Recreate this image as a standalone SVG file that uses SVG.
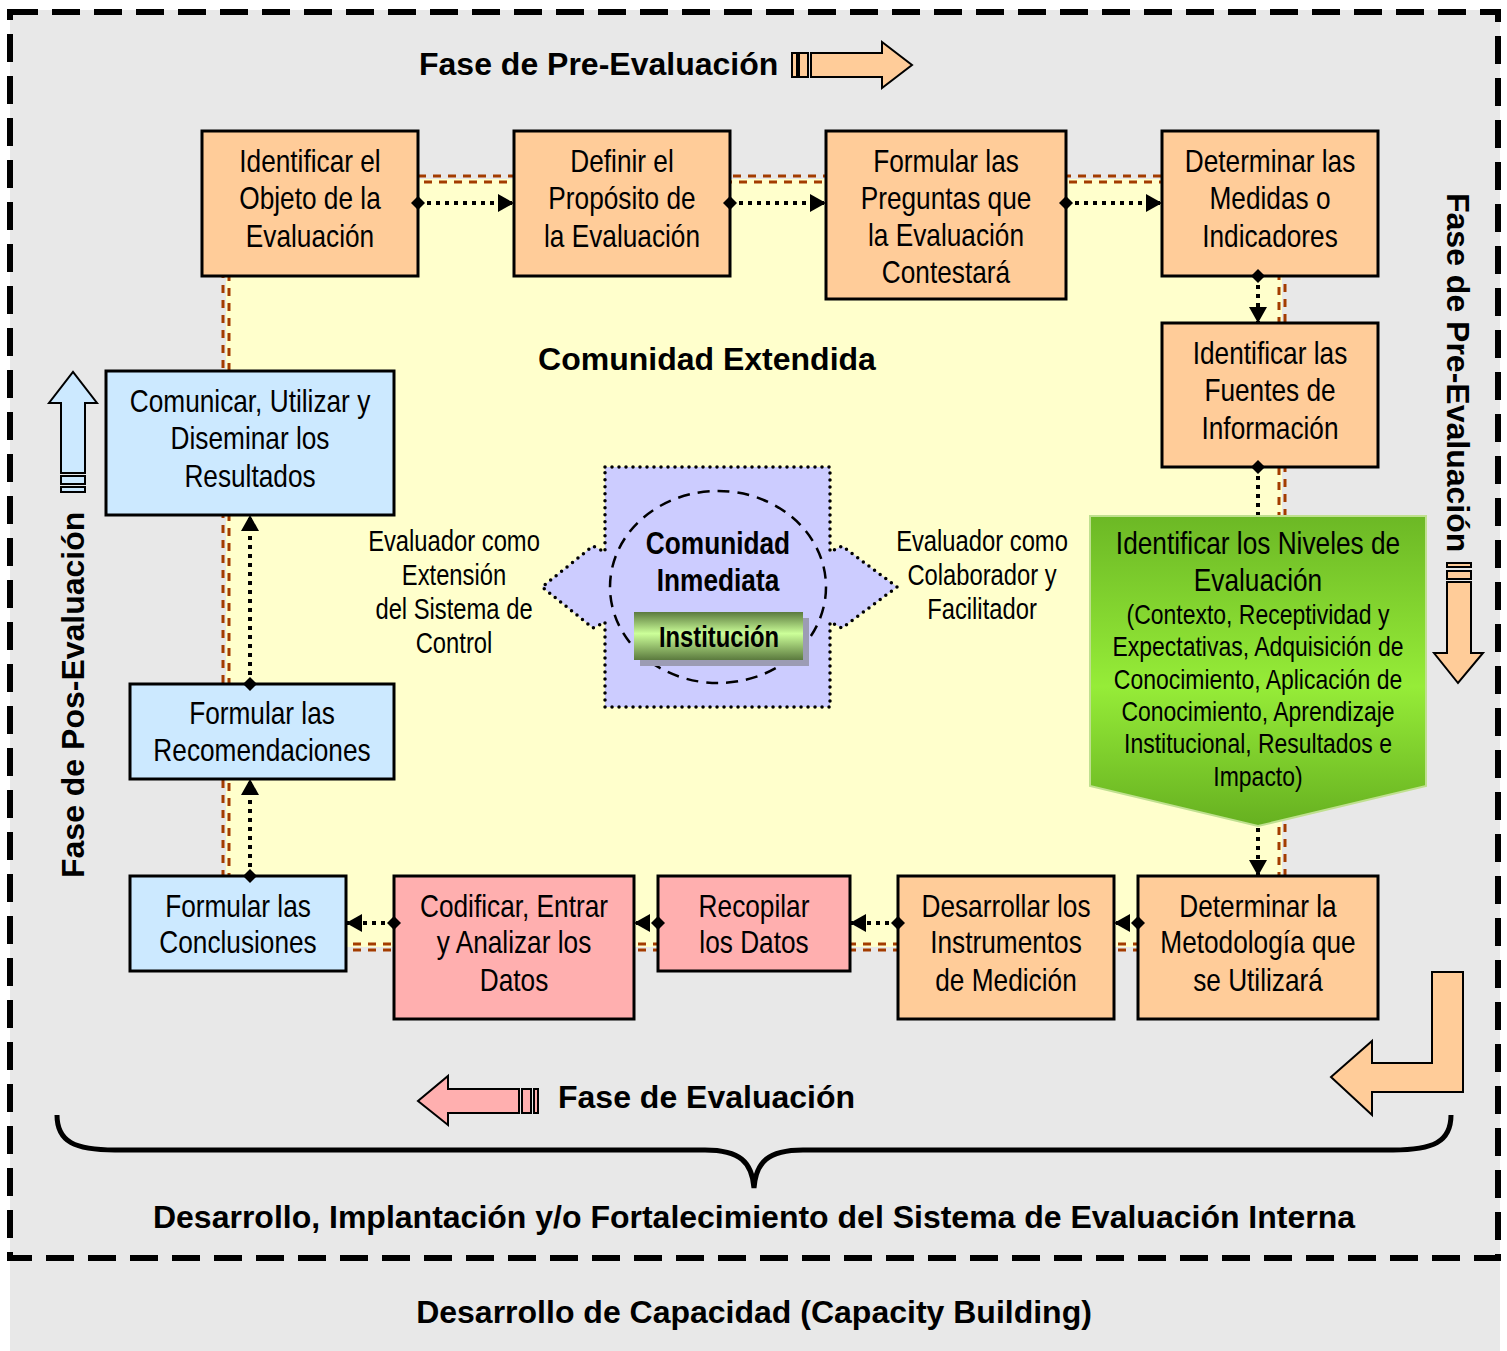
<svg xmlns="http://www.w3.org/2000/svg" width="1507" height="1351" viewBox="0 0 1507 1351">
<defs>
<style>
.box{stroke:#000;stroke-width:3}
.or{fill:#ffcc99}.pk{fill:#ffafaf}.bl{fill:#cce9ff}
.t{font-family:"Liberation Sans",Arial,sans-serif;font-size:32px;text-anchor:middle;fill:#000}
.s{font-size:28px}
.m{font-size:29px}
.b{font-family:"Liberation Sans",Arial,sans-serif;font-weight:bold;font-size:32px;fill:#000}
.nb{font-family:"Liberation Sans",Arial,sans-serif;font-weight:bold;text-anchor:middle;fill:#000}
.dd{fill:none;stroke:#a33c00;stroke-width:3;stroke-dasharray:8 7}
.con{fill:none;stroke:#000;stroke-width:4;stroke-dasharray:4 5}
.arrow{stroke:#000;stroke-width:2}
</style>
<marker id="dia" markerUnits="userSpaceOnUse" markerWidth="16" markerHeight="16" refX="8" refY="8" orient="auto"><path d="M1,8 L8,1 L15,8 L8,15 Z" fill="#000"/></marker>
<marker id="arr" markerUnits="userSpaceOnUse" markerWidth="16" markerHeight="18" refX="16" refY="9" orient="auto"><path d="M0,0 L16,9 L0,18 Z" fill="#000"/></marker>
<linearGradient id="gr" x1="0" y1="0" x2="0" y2="1">
<stop offset="0" stop-color="#6cb825"/><stop offset="0.55" stop-color="#96ec38"/><stop offset="1" stop-color="#66b020"/>
</linearGradient>
<linearGradient id="ig" x1="0" y1="0" x2="0" y2="1">
<stop offset="0" stop-color="#5b7a3e"/><stop offset="0.45" stop-color="#ccff99"/><stop offset="1" stop-color="#5b7a3e"/>
</linearGradient>
</defs>
<rect x="0" y="0" width="1507" height="1351" fill="#ffffff"/>
<rect x="10" y="10" width="1490" height="1341" fill="#e8e8e8"/>
<rect x="10" y="12" width="1488" height="1246" fill="none" stroke="#000" stroke-width="6" stroke-dasharray="28 14"/>
<g id="extended-community">
<rect x="226" y="179" width="1056" height="768" fill="#ffffcc"/>
<rect class="dd" x="223" y="176" width="1062" height="774"/>
<rect class="dd" x="229" y="182" width="1050" height="762"/>
<text class="b" x="707" y="370" text-anchor="middle">Comunidad Extendida</text>
</g>
<g id="immediate-community">
<path d="M605,467 L830,467 L830,552 L842,546 L897,587 L842,628 L830,622 L830,707 L605,707 L605,622 L593,628 L542,587 L593,546 L605,552 Z" fill="#ccccff" stroke="#000" stroke-width="3.5" stroke-linecap="round" stroke-dasharray="0 7"/>
<ellipse cx="718" cy="587" rx="108" ry="96" fill="none" stroke="#000" stroke-width="2.5" stroke-dasharray="12 8"/>
<g transform="translate(718 0) scale(0.82 1)">
<text class="nb" x="0" y="554" font-size="32">Comunidad</text>
<text class="nb" x="0" y="591" font-size="32">Inmediata</text>
</g>
</g>
<g id="institucion">
<rect x="640" y="618" width="169" height="48" fill="#9c9cb4"/>
<rect x="634" y="612" width="169" height="48" fill="url(#ig)"/>
<g transform="translate(719 0) scale(0.82 1)"><text class="nb" x="0" y="647" font-size="29">Institución</text></g>
</g>
<g id="label-left" transform="translate(454 0) scale(0.82 1)">
<text class="t m" x="0" y="551">Evaluador como</text>
<text class="t m" x="0" y="585">Extensión</text>
<text class="t m" x="0" y="619">del Sistema de</text>
<text class="t m" x="0" y="653">Control</text>
</g>
<g id="label-right" transform="translate(982 0) scale(0.82 1)">
<text class="t m" x="0" y="551">Evaluador como</text>
<text class="t m" x="0" y="585">Colaborador y</text>
<text class="t m" x="0" y="619">Facilitador</text>
</g>
<g id="n1"><rect class="box or" x="202" y="131" width="216" height="145"/>
<g transform="translate(310 0) scale(0.82 1)"><text class="t" x="0" y="172">Identificar el</text><text class="t" x="0" y="209">Objeto de la</text><text class="t" x="0" y="247">Evaluación</text></g></g>
<g id="n2"><rect class="box or" x="514" y="131" width="216" height="145"/>
<g transform="translate(622 0) scale(0.82 1)"><text class="t" x="0" y="172">Definir el</text><text class="t" x="0" y="209">Propósito de</text><text class="t" x="0" y="247">la Evaluación</text></g></g>
<g id="n3"><rect class="box or" x="826" y="131" width="240" height="168"/>
<g transform="translate(946 0) scale(0.82 1)"><text class="t" x="0" y="172">Formular las</text><text class="t" x="0" y="209">Preguntas que</text><text class="t" x="0" y="246">la Evaluación</text><text class="t" x="0" y="283">Contestará</text></g></g>
<g id="n4"><rect class="box or" x="1162" y="131" width="216" height="145"/>
<g transform="translate(1270 0) scale(0.82 1)"><text class="t" x="0" y="172">Determinar las</text><text class="t" x="0" y="209">Medidas o</text><text class="t" x="0" y="247">Indicadores</text></g></g>
<g id="n5"><rect class="box or" x="1162" y="323" width="216" height="144"/>
<g transform="translate(1270 0) scale(0.82 1)"><text class="t" x="0" y="364">Identificar las</text><text class="t" x="0" y="401">Fuentes de</text><text class="t" x="0" y="439">Información</text></g></g>
<g id="n6"><path d="M1090,516 L1426,516 L1426,786 L1258,826 L1090,786 Z" fill="url(#gr)" stroke="#bfe08f" stroke-width="2"/>
<g transform="translate(1258 0) scale(0.82 1)">
<text class="t" x="0" y="554">Identificar los Niveles de</text><text class="t" x="0" y="591">Evaluación</text>
<text class="t s" x="0" y="624">(Contexto, Receptividad y</text>
<text class="t s" x="0" y="656">Expectativas, Adquisición de</text>
<text class="t s" x="0" y="689">Conocimiento, Aplicación de</text>
<text class="t s" x="0" y="721">Conocimiento, Aprendizaje</text>
<text class="t s" x="0" y="753">Institucional, Resultados e</text>
<text class="t s" x="0" y="786">Impacto)</text></g></g>
<g id="n7"><rect class="box or" x="1138" y="876" width="240" height="143"/>
<g transform="translate(1258 0) scale(0.82 1)"><text class="t" x="0" y="917">Determinar la</text><text class="t" x="0" y="953">Metodología que</text><text class="t" x="0" y="991">se Utilizará</text></g></g>
<g id="n8"><rect class="box or" x="898" y="876" width="216" height="143"/>
<g transform="translate(1006 0) scale(0.82 1)"><text class="t" x="0" y="917">Desarrollar los</text><text class="t" x="0" y="953">Instrumentos</text><text class="t" x="0" y="991">de Medición</text></g></g>
<g id="n9"><rect class="box pk" x="658" y="876" width="192" height="95"/>
<g transform="translate(754 0) scale(0.82 1)"><text class="t" x="0" y="917">Recopilar</text><text class="t" x="0" y="953">los Datos</text></g></g>
<g id="n10"><rect class="box pk" x="394" y="876" width="240" height="143"/>
<g transform="translate(514 0) scale(0.82 1)"><text class="t" x="0" y="917">Codificar, Entrar</text><text class="t" x="0" y="953">y Analizar los</text><text class="t" x="0" y="991">Datos</text></g></g>
<g id="n11"><rect class="box bl" x="130" y="876" width="216" height="95"/>
<g transform="translate(238 0) scale(0.82 1)"><text class="t" x="0" y="917">Formular las</text><text class="t" x="0" y="953">Conclusiones</text></g></g>
<g id="n12"><rect class="box bl" x="130" y="684" width="264" height="95"/>
<g transform="translate(262 0) scale(0.82 1)"><text class="t" x="0" y="724">Formular las</text><text class="t" x="0" y="761">Recomendaciones</text></g></g>
<g id="n13"><rect class="box bl" x="106" y="371" width="288" height="144"/>
<g transform="translate(250 0) scale(0.82 1)"><text class="t" x="0" y="412">Comunicar, Utilizar y</text><text class="t" x="0" y="449">Diseminar los</text><text class="t" x="0" y="487">Resultados</text></g></g>
<g id="connectors">
<line class="con" x1="418" y1="203" x2="514" y2="203" marker-start="url(#dia)" marker-end="url(#arr)"/>
<line class="con" x1="730" y1="203" x2="826" y2="203" marker-start="url(#dia)" marker-end="url(#arr)"/>
<line class="con" x1="1066" y1="203" x2="1162" y2="203" marker-start="url(#dia)" marker-end="url(#arr)"/>
<line class="con" x1="1258" y1="276" x2="1258" y2="323" marker-start="url(#dia)" marker-end="url(#arr)"/>
<line class="con" x1="1258" y1="467" x2="1258" y2="515" marker-start="url(#dia)"/>
<line class="con" x1="1258" y1="828" x2="1258" y2="876" marker-end="url(#arr)"/>
<line class="con" x1="1138" y1="923" x2="1114" y2="923" marker-start="url(#dia)" marker-end="url(#arr)"/>
<line class="con" x1="898" y1="923" x2="850" y2="923" marker-start="url(#dia)" marker-end="url(#arr)"/>
<line class="con" x1="658" y1="923" x2="634" y2="923" marker-start="url(#dia)" marker-end="url(#arr)"/>
<line class="con" x1="394" y1="923" x2="346" y2="923" marker-start="url(#dia)" marker-end="url(#arr)"/>
<line class="con" x1="250" y1="876" x2="250" y2="779" marker-start="url(#dia)" marker-end="url(#arr)"/>
<line class="con" x1="250" y1="684" x2="250" y2="515" marker-start="url(#dia)" marker-end="url(#arr)"/>
</g>
<g id="phase-pre-top">
<text class="b" x="419" y="75">Fase de Pre-Evaluación</text>
<g class="arrow" fill="#ffcc99">
<rect x="792" y="53" width="5" height="24"/><rect x="799" y="53" width="9" height="24"/>
<path d="M811,53 L882,53 L882,42 L912,65 L882,88 L882,77 L811,77 Z"/>
</g>
</g>
<g id="phase-pre-right">
<text class="b" transform="translate(1447,193) rotate(90)">Fase de Pre-Evaluación</text>
<g class="arrow" fill="#ffcc99">
<rect x="1447" y="563" width="24" height="4"/><rect x="1447" y="571" width="24" height="8"/>
<path d="M1447,582 L1471,582 L1471,653 L1483,653 L1458,683 L1434,653 L1447,653 Z"/>
</g>
</g>
<g id="phase-post">
<text class="b" transform="translate(84,878) rotate(-90)">Fase de Pos-Evaluación</text>
<g class="arrow" fill="#cce9ff">
<rect x="61" y="476" width="24" height="8"/><rect x="61" y="487" width="24" height="5"/>
<path d="M61,473 L85,473 L85,403 L97,403 L73,372 L49,403 L61,403 Z"/>
</g>
</g>
<g id="phase-eval">
<text class="b" x="558" y="1108">Fase de Evaluación</text>
<g class="arrow" fill="#ffafaf">
<rect x="522" y="1089" width="9" height="24"/><rect x="534" y="1089" width="4" height="24"/>
<path d="M519,1089 L448,1089 L448,1076 L418,1101 L448,1125 L448,1113 L519,1113 Z"/>
</g>
</g>
<g id="turn-arrow">
<path class="arrow" fill="#ffcc99" d="M1432,972 L1463,972 L1463,1092 L1372,1092 L1372,1115 L1331,1077 L1372,1041 L1372,1063 L1432,1063 Z"/>
</g>
<g id="brace">
<path d="M57,1115 C57,1142 75,1150 115,1150 L705,1150 C740,1150 752,1162 754,1188 C756,1162 768,1150 803,1150 L1393,1150 C1433,1150 1451,1142 1451,1115" fill="none" stroke="#000" stroke-width="5"/>
<text class="b" x="754" y="1228" text-anchor="middle">Desarrollo, Implantación y/o Fortalecimiento del Sistema de Evaluación Interna</text>
</g>
<text class="b" x="754" y="1323" text-anchor="middle">Desarrollo de Capacidad (Capacity Building)</text>
</svg>
